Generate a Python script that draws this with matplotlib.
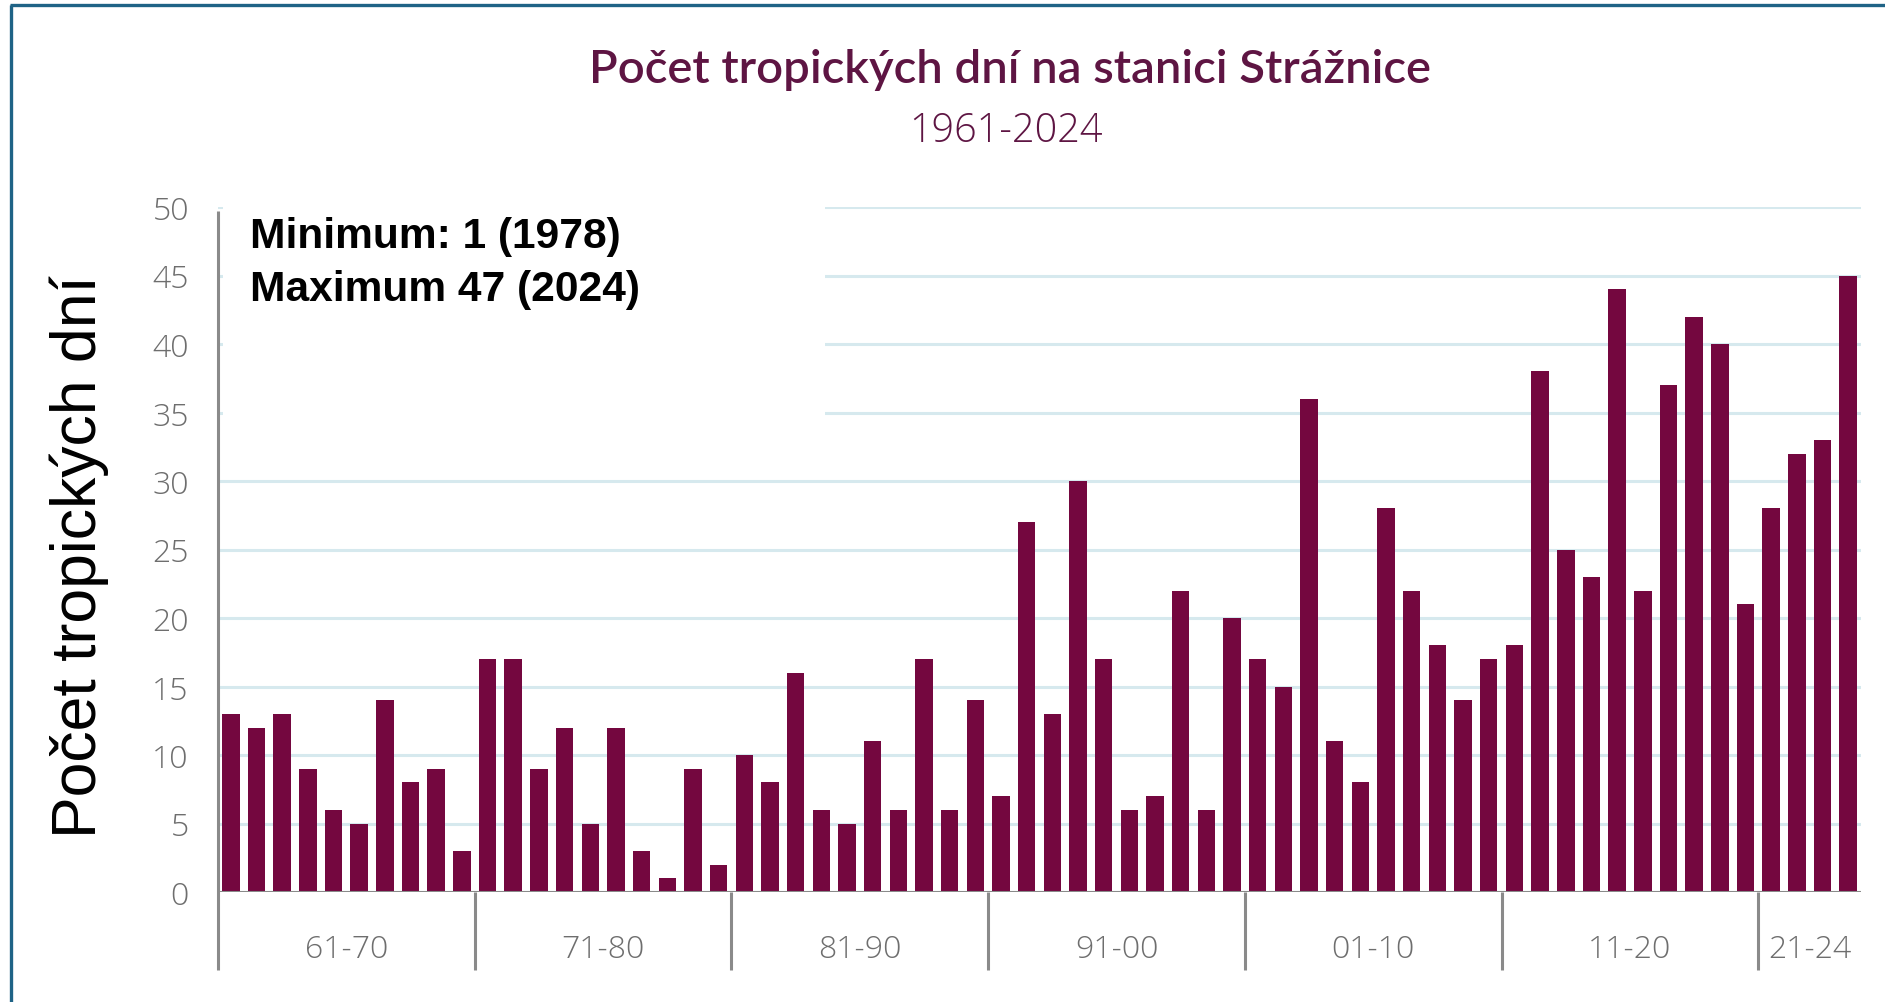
import matplotlib
matplotlib.use("Agg")
import matplotlib.pyplot as plt
from matplotlib.patches import Rectangle
from matplotlib.lines import Line2D

# ---------------- data ----------------
decade_labels = ["61-70", "71-80", "81-90", "91-00", "01-10", "11-20", "21-24"]
decade_sizes = [10, 10, 10, 10, 10, 10, 4]
values = [
    13, 12, 13, 9, 6, 5, 14, 8, 9, 3,        # 1961-1970
    17, 17, 9, 12, 5, 12, 3, 1, 9, 2,        # 1971-1980
    10, 8, 16, 6, 5, 11, 6, 17, 6, 14,       # 1981-1990
    7, 27, 13, 30, 17, 6, 7, 22, 6, 20,      # 1991-2000
    17, 15, 36, 11, 8, 28, 22, 18, 14, 17,   # 2001-2010
    18, 38, 25, 23, 44, 22, 37, 42, 40, 21,  # 2011-2020
    28, 32, 33, 45,                          # 2021-2024
]
y_ticks = [0, 5, 10, 15, 20, 25, 30, 35, 40, 45, 50]
title = "Počet tropických dní na stanici Strážnice"
subtitle = "1961-2024"
ylabel = "Počet tropických dní"
note_lines = ["Minimum: 1 (1978)", "Maximum 47 (2024)"]

# ---------------- styles ----------------
BAR = "#74073f"
GRID = "#d6e9ee"
AXIS = "#8a8a8a"
TICK = "#6e6e6e"
TITLE_C = "#5e1543"
BORDER = "#1f6386"

W, H = 1885, 1003
fig = plt.figure(figsize=(W / 100, H / 100), dpi=100)
fig.patch.set_facecolor("white")

ax_l, ax_r = 218, 1861
ax_b, ax_t = 893, 208
ax = fig.add_axes([ax_l / W, 1 - ax_b / H, (ax_r - ax_l) / W, (ax_b - ax_t) / H])
ax.set_facecolor("none")

x = list(range(len(values)))
ax.bar(x, values, width=0.68, color=BAR, zorder=3)
ax.set_xlim(-0.5, len(values) - 0.5)
ax.set_ylim(0, 50)

for s in ax.spines.values():
    s.set_visible(False)

# gridlines
ax.set_yticks(y_ticks)
ax.yaxis.grid(True, color=GRID, linewidth=2.2, zorder=1)
ax.set_axisbelow(True)
ax.tick_params(axis="y", length=0, pad=21, labelsize=23, labelcolor=TICK)
for lab in ax.get_yticklabels():
    lab.set_fontfamily(["Open Sans", "DejaVu Sans"])
    lab.set_fontweight("light")
ax.set_xticks([])

# white box behind note (covers upper-left gridlines)
box_w = (825 - ax_l) / (ax_r - ax_l)
box_b = (ax_b - 450) / (ax_b - ax_t)
ax.add_patch(Rectangle((0.003, box_b), box_w - 0.003, 1.05 - box_b, transform=ax.transAxes,
                       facecolor="white", edgecolor="none", zorder=2, clip_on=False))

# baseline
ax.axhline(0, color=AXIS, linewidth=2.2, zorder=4)

# left axis line and decade dividers
below = -(971 - ax_b) / (ax_b - ax_t)
top_frac = (ax_b - 212) / (ax_b - ax_t)
trans = ax.get_xaxis_transform()
ax.plot([-0.5, -0.5], [below, top_frac], transform=trans, color=AXIS, lw=2.2,
        clip_on=False, zorder=4, solid_capstyle="butt")
start = 0
label_y = -(950 - ax_b) / (ax_b - ax_t)
for i, (lab, n) in enumerate(zip(decade_labels, decade_sizes)):
    if i > 0:
        ax.plot([start - 0.5, start - 0.5], [0, below], transform=trans, color=AXIS,
                lw=2.2, clip_on=False, zorder=4, solid_capstyle="butt")
    center = start + (n - 1) / 2
    ax.text(center, label_y, lab, transform=trans, ha="center", va="center",
            fontsize=23, color=TICK, family=["Open Sans", "DejaVu Sans"], fontweight="light")
    start += n

# note
for j, line in enumerate(note_lines):
    fig.text(250 / W, 1 - (237 + 53 * j) / H, line, ha="left", va="center",
             fontsize=30.6, fontweight="bold", color="black",
             family=["Liberation Sans", "DejaVu Sans"])

# y label
fig.text(79 / W, 1 - 557 / H, ylabel, rotation=90, ha="center", va="center",
         fontsize=45, color="black", family=["Liberation Sans", "DejaVu Sans"])

# titles
fig.text(1010 / W, 1 - 70 / H, title, ha="center", va="center", fontsize=34,
         color=TITLE_C, family=["Lato", "DejaVu Sans"], fontweight="semibold")
fig.text(1006 / W, 1 - 132 / H, subtitle, ha="center", va="center", fontsize=28.5,
         color=TITLE_C, family=["Open Sans", "DejaVu Sans"], fontweight="light")

# frame border (top and left)
fig.add_artist(Line2D([10 / W, 1], [1 - 6 / H, 1 - 6 / H], transform=fig.transFigure,
                      color=BORDER, lw=2.4, solid_capstyle="butt"))
fig.add_artist(Line2D([11 / W, 11 / W], [0, 1 - 6 / H], transform=fig.transFigure,
                      color=BORDER, lw=2.4, solid_capstyle="butt"))

fig.savefig("out.png", dpi=100, facecolor="white")
